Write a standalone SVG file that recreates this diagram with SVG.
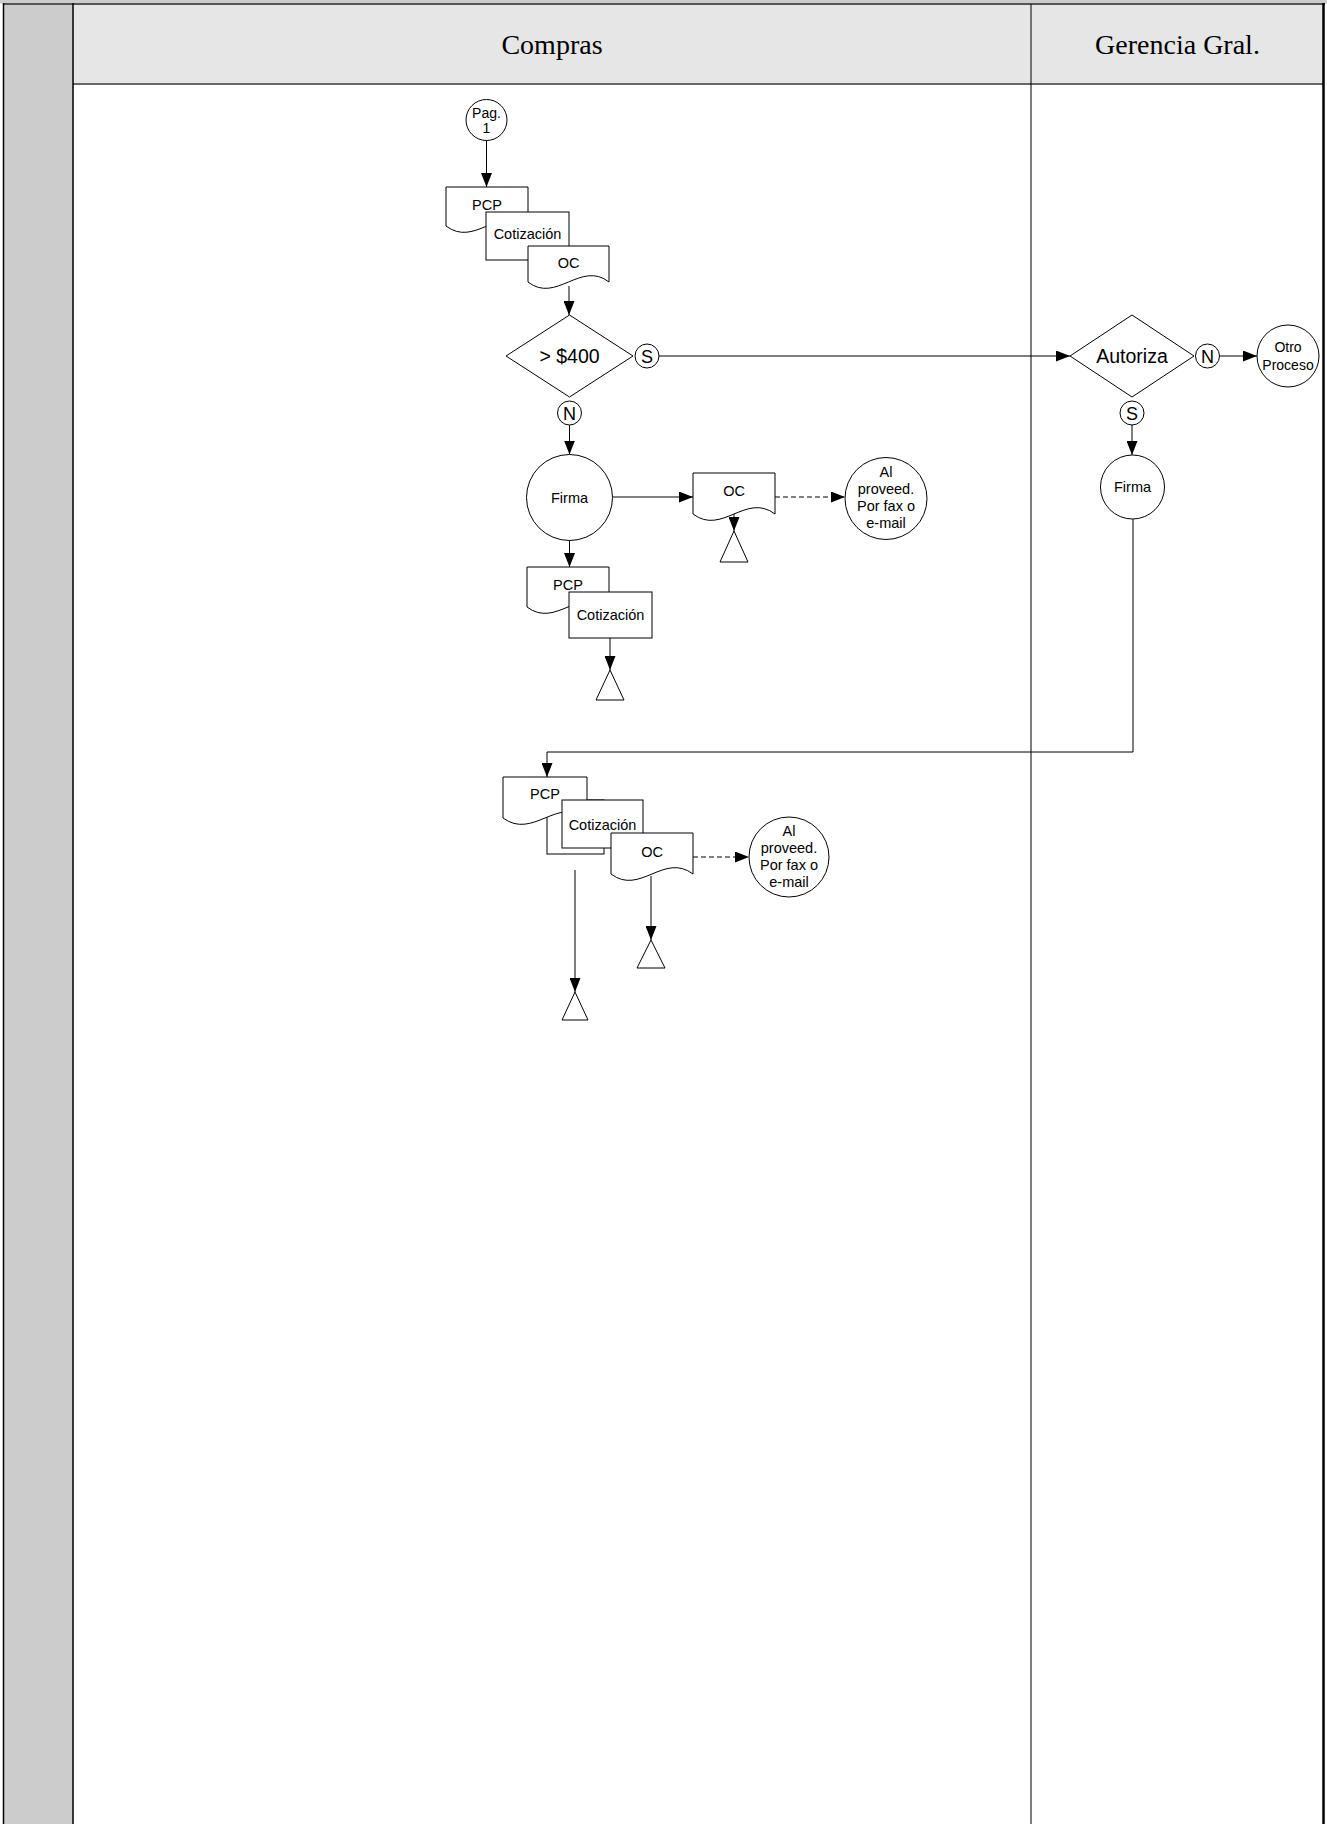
<svg xmlns="http://www.w3.org/2000/svg" width="1327" height="1824" viewBox="0 0 1327 1824">
<defs>
<style>
.s{fill:#fff;stroke:#000;stroke-width:1}
.ln{fill:none;stroke:#000;stroke-width:1}
.da{fill:none;stroke:#000;stroke-width:1;stroke-dasharray:5,3}
.t{font-family:"Liberation Sans",Arial,sans-serif;font-size:14.5px;text-anchor:middle;fill:#000}
.tb{font-family:"Liberation Sans",Arial,sans-serif;font-size:19.5px;text-anchor:middle;fill:#000}
.tc{font-family:"Liberation Sans",Arial,sans-serif;font-size:18px;text-anchor:middle;fill:#000}
.h{font-family:"Liberation Serif","Times New Roman",serif;font-size:28px;text-anchor:middle;fill:#000}
</style>
<marker id="arr" markerUnits="userSpaceOnUse" markerWidth="14" markerHeight="11" refX="14" refY="5.5" orient="auto"><path d="M0,0 L14,5.5 L0,11 z" fill="#000"/></marker>
</defs>
<rect x="0" y="0" width="1327" height="1824" fill="#fff"/>
<g id="pool">
<rect x="0" y="0" width="1327" height="3.5" fill="#cccccc"/>
<rect x="3.5" y="3.5" width="69.5" height="1821" fill="#cccccc"/>
<rect x="73" y="3.5" width="1251" height="80.5" fill="#e6e6e6"/>
<line x1="3" y1="4" x2="1325" y2="4" stroke="#555" stroke-width="2"/>
<line x1="73" y1="84" x2="1324" y2="84" stroke="#666" stroke-width="2"/>
<line x1="3.5" y1="3" x2="3.5" y2="1824" stroke="#000" stroke-width="1.5"/>
<line x1="73" y1="3" x2="73" y2="1824" stroke="#000" stroke-width="1.5"/>
<line x1="1031" y1="4" x2="1031" y2="1824" stroke="#000" stroke-width="1"/>
<line x1="1323.5" y1="3" x2="1323.5" y2="1824" stroke="#000" stroke-width="2.5"/>
<text class="h" x="552" y="54">Compras</text>
<text class="h" x="1177.5" y="54">Gerencia Gral.</text>
</g>
<g id="connectors">
<line class="ln" x1="486.5" y1="140" x2="486.5" y2="187" marker-end="url(#arr)"/>
<line class="ln" x1="569" y1="286" x2="569" y2="315" marker-end="url(#arr)"/>
<line class="ln" x1="659" y1="356" x2="1070" y2="356" marker-end="url(#arr)"/>
<line class="ln" x1="569.5" y1="425" x2="569.5" y2="454.5" marker-end="url(#arr)"/>
<line class="ln" x1="612.5" y1="497" x2="693" y2="497" marker-end="url(#arr)"/>
<line class="da" x1="775" y1="497" x2="845" y2="497" marker-end="url(#arr)"/>
<line class="ln" x1="734" y1="514" x2="734" y2="531" marker-end="url(#arr)"/>
<line class="ln" x1="569.5" y1="540.5" x2="569.5" y2="567" marker-end="url(#arr)"/>
<line class="ln" x1="610" y1="638" x2="610" y2="670" marker-end="url(#arr)"/>
<line class="ln" x1="1219.5" y1="356" x2="1257" y2="356" marker-end="url(#arr)"/>
<line class="ln" x1="1132" y1="425" x2="1132" y2="455" marker-end="url(#arr)"/>
<polyline class="ln" points="1133,519 1133,752 547,752 547,777" marker-end="url(#arr)"/>
<line class="da" x1="693" y1="857" x2="749" y2="857" marker-end="url(#arr)"/>
<line class="ln" x1="651" y1="876" x2="651" y2="940" marker-end="url(#arr)"/>
<line class="ln" x1="575" y1="870" x2="575" y2="992" marker-end="url(#arr)"/>
</g>
<g id="pag1"><circle class="s" cx="486.5" cy="120" r="20.5"/><text class="t" x="486.5" y="118" style="font-size:14px">Pag.</text><text class="t" x="486.5" y="133" style="font-size:14px">1</text></g>
<g id="pcp1"><path class="s" d="M446,187 H528 V226 C499,204 475,248 446,226 Z"/><text class="t" x="487" y="210">PCP</text></g>
<g id="cot1"><rect class="s" x="486" y="212" width="83" height="48"/><text class="t" x="527.5" y="239">Cotización</text></g>
<g id="oc1"><path class="s" d="M528,246 H609 V282 C581,260 556,304 528,282 Z"/><text class="t" x="568.5" y="268">OC</text></g>
<g id="dec400"><polygon class="s" points="569.5,315 633,356 569.5,397 506,356"/><text class="tb" x="569.5" y="363">&gt; $400</text></g>
<g id="s1"><circle class="s" cx="647" cy="356" r="12"/><text class="tc" x="647" y="362.5">S</text></g>
<g id="n1"><circle class="s" cx="569.5" cy="413" r="12"/><text class="tc" x="569.5" y="419.5">N</text></g>
<g id="firma1"><circle class="s" cx="569.5" cy="497.5" r="43"/><text class="t" x="569.5" y="503">Firma</text></g>
<g id="oc2"><path class="s" d="M693,473 H775 V514 C746,492 722,536 693,514 Z"/><text class="t" x="734" y="496">OC</text></g>
<g id="al1"><circle class="s" cx="886" cy="498.5" r="41"/><text class="t" x="886" y="477">Al</text><text class="t" x="886" y="494">proveed.</text><text class="t" x="886" y="511">Por fax o</text><text class="t" x="886" y="528">e-mail</text></g>
<g id="tri1"><polygon class="s" points="734,531 748,562 720,562"/></g>
<g id="pcp2"><path class="s" d="M527,567 H609 V607 C580,585 556,629 527,607 Z"/><text class="t" x="568" y="590">PCP</text></g>
<g id="cot2"><rect class="s" x="569" y="592" width="83" height="46"/><text class="t" x="610.5" y="620">Cotización</text></g>
<g id="tri2"><polygon class="s" points="610,670 624,700 596,700"/></g>
<g id="autoriza"><polygon class="s" points="1132,315 1194,356 1132,397 1070,356"/><text class="tb" x="1132" y="363">Autoriza</text></g>
<g id="n2"><circle class="s" cx="1207.5" cy="356" r="12"/><text class="tc" x="1207.5" y="362.5">N</text></g>
<g id="otro"><circle class="s" cx="1288" cy="356" r="31"/><text class="t" x="1288" y="352" style="font-size:14px">Otro</text><text class="t" x="1288" y="370" style="font-size:14px">Proceso</text></g>
<g id="s2"><circle class="s" cx="1132" cy="413" r="12"/><text class="tc" x="1132" y="419.5">S</text></g>
<g id="firma2"><circle class="s" cx="1132.5" cy="487" r="32"/><text class="t" x="1132.5" y="492">Firma</text></g>
<g id="back3"><rect class="s" x="547" y="800" width="57" height="54"/></g>
<g id="pcp3"><path class="s" d="M503,777 H587 V818 C557,796 533,840 503,818 Z"/><text class="t" x="545" y="799">PCP</text></g>
<g id="cot3"><rect class="s" x="562" y="800" width="81" height="48"/><text class="t" x="602.5" y="830">Cotización</text></g>
<g id="oc3"><path class="s" d="M611,833 H693 V874 C664,852 640,896 611,874 Z"/><text class="t" x="652" y="857">OC</text></g>
<g id="al2"><circle class="s" cx="789" cy="857" r="40"/><text class="t" x="789" y="836">Al</text><text class="t" x="789" y="853">proveed.</text><text class="t" x="789" y="870">Por fax o</text><text class="t" x="789" y="887">e-mail</text></g>
<g id="tri3"><polygon class="s" points="651,940 665,968 637,968"/></g>
<g id="tri4"><polygon class="s" points="575,992 588,1020 562,1020"/></g>
</svg>
